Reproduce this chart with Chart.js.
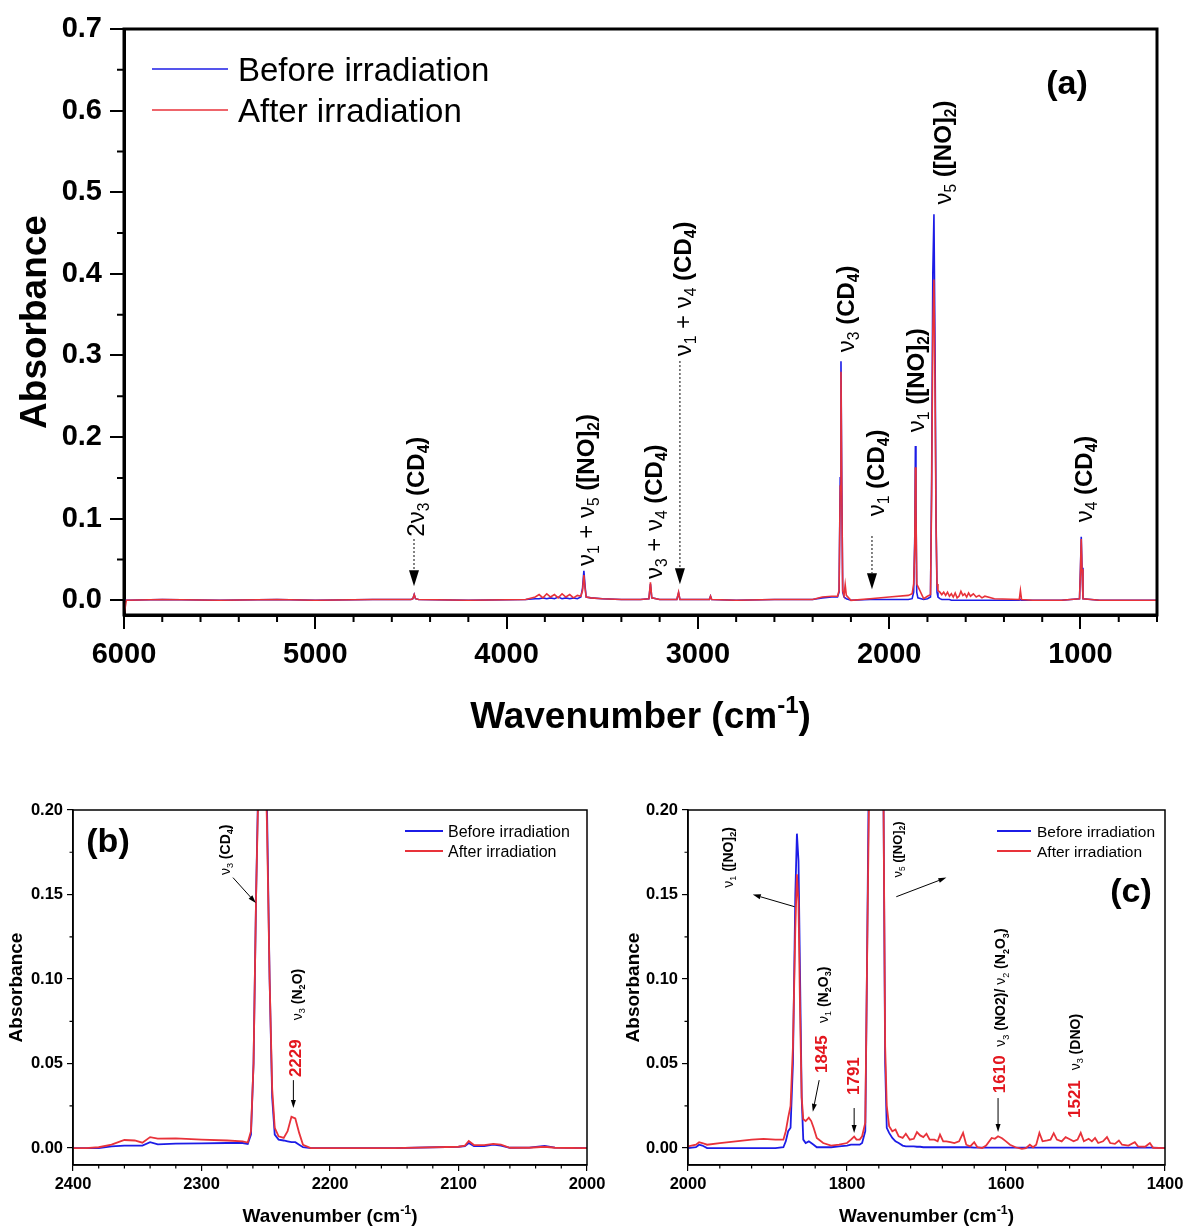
<!DOCTYPE html>
<html>
<head>
  <title>FTIR spectra before and after irradiation</title>
  <script src="https://cdn.jsdelivr.net/npm/chart.js@4.4.0/dist/chart.umd.min.js"></script>
  <style>
    body { margin: 0; background: #fff; }
    .panel { position: absolute; }
  </style>
</head>
<body>
  <div class="panel" style="left:0;top:0;width:1183px;height:745px"><canvas id="chartA"></canvas></div>
  <div class="panel" style="left:0;top:790px;width:620px;height:438px"><canvas id="chartB"></canvas></div>
  <div class="panel" style="left:590px;top:790px;width:593px;height:438px"><canvas id="chartC"></canvas></div>

  <script>
    // ---- data: panel (a), full range ----
    const waveA = [6000, 5988, 5800, 5500, 5200, 5000, 4700, 4500, 4490, 4483, 4476, 4460, 4200, 3900,
      3850, 3830, 3810, 3790, 3770, 3750, 3730, 3710, 3690, 3670, 3650, 3630, 3612, 3603, 3596, 3590, 3584,
      3560, 3500, 3400, 3300, 3256, 3248, 3241, 3200, 3110, 3101, 3094, 3000, 2940, 2934, 2928, 2800, 2600,
      2400, 2350, 2300, 2270, 2262, 2256, 2252, 2248, 2243, 2236, 2230, 2224, 2200, 2100, 2000, 1900, 1880,
      1872, 1866, 1863, 1860, 1856, 1850, 1820, 1800, 1784, 1778, 1772, 1766, 1760, 1755, 1750, 1745, 1735,
      1725, 1715, 1705, 1695, 1685, 1675, 1665, 1655, 1645, 1635, 1625, 1615, 1605, 1595, 1585, 1575, 1560,
      1545, 1530, 1515, 1500, 1450, 1320, 1314, 1308, 1250, 1100, 1005, 1000, 996, 992, 987, 900, 700, 600];
    const beforeA = [0, 0, 0.001, 0, 0.001, 0, 0.001, 0.001, 0.002, 0.007, 0.002, 0.001, 0, 0.001,
      0.002, 0.002, 0.003, 0.002, 0.003, 0.002, 0.004, 0.002, 0.003, 0.002, 0.003, 0.002, 0.004, 0.015, 0.036, 0.018, 0.004,
      0.003, 0.002, 0.001, 0.001, 0.002, 0.02, 0.003, 0.001, 0.001, 0.009, 0.001, 0.001, 0.001, 0.005, 0.001, 0, 0.001,
      0.001, 0.003, 0.004, 0.004, 0.01, 0.15, 0.293, 0.15, 0.01, 0.004, 0.003, 0.002, 0, 0.001, 0.001, 0.001, 0.002,
      0.01, 0.08, 0.189, 0.12, 0.01, 0.003, 0.001, 0.002, 0.004, 0.15, 0.40, 0.473, 0.3, 0.1, 0.01, 0.004, 0.002,
      0.001, 0.001, 0.001, 0.001, 0.001, 0, 0, 0, 0, 0, 0, 0, 0, 0, 0, 0, 0,
      0, 0, 0, 0, 0, 0, 0.001, 0, 0, 0, 0.002, 0.04, 0.078, 0.04, 0.002, 0, 0, 0];
    const afterA = [-0.018, 0, 0.001, 0, 0.001, 0, 0.001, 0.001, 0.002, 0.007, 0.002, 0.001, 0, 0.001,
      0.004, 0.007, 0.003, 0.008, 0.004, 0.007, 0.003, 0.008, 0.004, 0.007, 0.003, 0.006, 0.005, 0.012, 0.031, 0.015, 0.004,
      0.003, 0.002, 0.001, 0.001, 0.002, 0.022, 0.003, 0.001, 0.001, 0.01, 0.001, 0.001, 0.001, 0.005, 0.001, 0, 0.001,
      0.001, 0.004, 0.005, 0.005, 0.012, 0.14, 0.28, 0.14, 0.012, 0.006, 0.019, 0.006, 0, 0.002, 0.004, 0.006, 0.008,
      0.02, 0.07, 0.163, 0.11, 0.02, 0.017, 0.002, 0.005, 0.007, 0.13, 0.33, 0.393, 0.25, 0.09, 0.02, 0.012, 0.01,
      0.007, 0.01, 0.006, 0.01, 0.005, 0.008, 0.004, 0.009, 0.003, 0.005, 0.011, 0.006, 0.008, 0.004, 0.009, 0.005, 0.008,
      0.004, 0.006, 0.003, 0.005, 0.002, 0.001, 0.012, 0.001, 0, 0, 0.002, 0.038, 0.075, 0.038, 0.002, 0, 0, 0];
    const xTicksA = [6000, 5000, 4000, 3000, 2000, 1000];
    const yTicksA = [0, 0.1, 0.2, 0.3, 0.4, 0.5, 0.6, 0.7];

    // ---- data: panel (b), 2400-2000 cm-1 ----
    const waveB = [2400, 2390, 2380, 2370, 2360, 2352, 2346, 2340, 2334, 2320, 2300, 2280, 2268, 2264, 2261.5,
      2259.5, 2257.5, 2255, 2252, 2249, 2247, 2245, 2243, 2240, 2236, 2233, 2230, 2227, 2224, 2221, 2215, 2150,
      2100, 2095, 2092, 2088, 2080, 2073, 2067, 2060, 2045, 2033, 2025, 2000];
    const beforeB = [0, 0, 0, 0.001, 0.0015, 0.0015, 0.0015, 0.0035, 0.0022, 0.0026, 0.0028, 0.003, 0.003, 0.0025, 0.008,
      0.05, 0.15, 0.25, 0.293, 0.2, 0.1, 0.03, 0.008, 0.005, 0.0045, 0.004, 0.0035, 0.0035, 0.002, 0.0005, 0, 0,
      0.0008, 0.0012, 0.003, 0.0012, 0.0012, 0.002, 0.0015, 0.0002, 0.0003, 0.0013, 0.0003, 0];
    const afterB = [0, 0, 0.0005, 0.002, 0.0048, 0.0045, 0.0032, 0.0065, 0.0056, 0.0058, 0.005, 0.0045, 0.004, 0.0033, 0.01,
      0.05, 0.15, 0.24, 0.28, 0.19, 0.1, 0.035, 0.012, 0.007, 0.006, 0.01, 0.0185, 0.0175, 0.009, 0.002, 0, 0,
      0.0008, 0.0015, 0.0042, 0.0018, 0.0018, 0.0025, 0.002, 0.0002, 0.0002, 0.0008, 0.0002, 0];
    const xTicksB = [2400, 2300, 2200, 2100, 2000];
    const yTicksB = [0, 0.05, 0.1, 0.15, 0.2];

    // ---- data: panel (c), 2000-1400 cm-1 ----
    const waveC = [2000, 1990, 1986, 1982, 1976, 1960, 1940, 1920, 1905, 1890, 1880, 1877, 1874, 1871, 1868,
      1865, 1863, 1861, 1859, 1857, 1855, 1852, 1848, 1845, 1842, 1838, 1830, 1820, 1810, 1800, 1795, 1791,
      1788, 1784, 1781, 1777, 1775, 1772, 1766, 1758, 1754, 1752, 1750, 1747, 1743, 1739, 1735, 1730, 1726,
      1721, 1716, 1712, 1708, 1704, 1700, 1696, 1690, 1686, 1683, 1679, 1675, 1670, 1665, 1659, 1654, 1650,
      1645, 1640, 1636, 1630, 1625, 1618, 1614, 1610, 1605, 1600, 1595, 1588, 1580, 1575, 1570, 1566, 1562,
      1558, 1554, 1548, 1544, 1540, 1536, 1530, 1525, 1521, 1515, 1510, 1506, 1502, 1496, 1492, 1488, 1484,
      1478, 1473, 1469, 1463, 1458, 1454, 1446, 1438, 1434, 1425, 1419, 1415, 1400];
    const beforeC = [0, 0.0005, 0.002, 0.0015, 0, 0, 0, 0, 0, 0, 0.0005, 0.004, 0.01, 0.012, 0.05,
      0.15, 0.186, 0.17, 0.1, 0.03, 0.005, 0.003, 0.004, 0.003, 0.002, 0.0005, 0.0005, 0.0005, 0.001, 0.0015, 0.002, 0.002,
      0.002, 0.002, 0.003, 0.01, 0.1, 0.25, 0.473, 0.35, 0.2, 0.05, 0.012, 0.009, 0.006, 0.004, 0.003, 0.0015, 0.001,
      0.001, 0.001, 0.0008, 0.0008, 0.0005, 0.0005, 0.0005, 0.0005, 0.0005, 0.0005, 0.0005, 0.0005, 0.0005, 0.0005, 0.0005, 0.0005, 0.0005,
      0.0005, 0.0003, 0.0003, 0.0003, 0.0003, 0.0003, 0.0003, 0.0003, 0.0003, 0.0003, 0.0003, 0.0003, 0.0003, 0.0003, 0.0003, 0.0003, 0.0003,
      0.0003, 0.0003, 0.0003, 0.0003, 0.0003, 0.0003, 0.0003, 0.0003, 0.0003, 0.0003, 0.0003, 0.0003, 0.0003, 0.0003, 0.0003, 0.0003, 0.0003,
      0.0003, 0.0003, 0.0003, 0.0003, 0.0003, 0.0003, 0.0003, 0.0003, 0.0003, 0.0003, 0.0003, 0.0003, 0];
    const afterC = [0.001, 0.002, 0.0035, 0.003, 0.002, 0.003, 0.004, 0.005, 0.0055, 0.005, 0.005, 0.01, 0.018, 0.025, 0.06,
      0.13, 0.162, 0.145, 0.08, 0.03, 0.017, 0.016, 0.018, 0.016, 0.012, 0.006, 0.003, 0.0015, 0.002, 0.003, 0.005, 0.0068,
      0.005, 0.005, 0.007, 0.015, 0.1, 0.22, 0.393, 0.3, 0.2, 0.06, 0.025, 0.013, 0.01, 0.011, 0.007, 0.006, 0.0085,
      0.005, 0.0055, 0.0095, 0.0075, 0.0065, 0.0085, 0.005, 0.005, 0.004, 0.008, 0.004, 0.004, 0.0035, 0.003, 0.004, 0.009, 0.002,
      0.001, 0.0035, 0.0005, 0, 0.0015, 0.006, 0.0055, 0.007, 0.0058, 0.004, 0.002, 0.0005, -0.0005, 0, 0.002, 0.0005, 0.002,
      0.009, 0.004, 0.0045, 0.005, 0.0088, 0.005, 0.004, 0.0065, 0.0055, 0.004, 0.005, 0.009, 0.004, 0.0055, 0.004, 0.006, 0.003,
      0.004, 0.0065, 0.003, 0.0025, 0.0045, 0.002, 0.0015, 0.0035, 0.001, 0.0008, 0.003, 0.0002, 0];
    const xTicksC = [2000, 1800, 1600, 1400];
    const yTicksC = [0, 0.05, 0.1, 0.15, 0.2];

    const BLUE = '#1c1ce6';
    const RED = '#e8323a';
    const RED_TEXT = '#e3161e';
    const FONT = "'Liberation Sans', Arial, sans-serif";

    // label pieces: [text, flags]  b = bold, s = subscript, u = superscript
    const CD4 = [[' (CD', 'b'], ['4', 'sb'], [')', 'b']];
    const NO2 = [[' ([NO]', 'b'], ['2', 'sb'], [')', 'b']];
    const nu = n => [['ν', ''], [n, 's']];

    // peak labels, anchored at the lower end of the rotated text (wavenumber, absorbance)
    const labelsA = [
      { w: 4479, a: 0.078, size: 24, segs: [['2ν', ''], ['3', 's'], ...CD4] },
      { w: 3590, a: 0.042, size: 24, segs: [...nu('1'), [' + ', ''], ...nu('5'), ...NO2] },
      { w: 3235, a: 0.026, size: 24, segs: [...nu('3'), [' + ', ''], ...nu('4'), ...CD4] },
      { w: 3083, a: 0.299, size: 24, segs: [...nu('1'), [' + ', ''], ...nu('4'), ...CD4] },
      { w: 2231, a: 0.304, size: 24, segs: [...nu('3'), ...CD4] },
      { w: 2074, a: 0.103, size: 24, segs: [...nu('1'), ...CD4] },
      { w: 1865, a: 0.206, size: 24, segs: [...nu('1'), ...NO2] },
      { w: 1724, a: 0.485, size: 24, segs: [...nu('5'), ...NO2] },
      { w: 987, a: 0.0955, size: 24, segs: [...nu('4'), ...CD4] }
    ];
    const arrowsA = [
      { w1: 4484, a1: 0.0747, w2: 4484, a2: 0.0171 },
      { w1: 3094, a1: 0.2928, w2: 3094, a2: 0.0196 },
      { w1: 2090, a1: 0.0784, w2: 2090, a2: 0.0135 }
    ];
    const labelsB = [
      { w: 2282, a: 0.1615, size: 14, segs: [...nu('3'), ...CD4] },
      { w: 2225.7, a: 0.0757, size: 14, segs: [...nu('3'), [' (N', 'b'], ['2', 'sb'], ['O)', 'b']] },
      { w: 2227, a: 0.042, size: 17, color: RED_TEXT, segs: [['2229', 'b']] }
    ];
    const arrowsB = [
      { w1: 2275.5, a1: 0.160, w2: 2257.7, a2: 0.145 },
      { w1: 2228.5, a1: 0.0402, w2: 2228.5, a2: 0.0237 }
    ];
    const N2O3 = [[' (N', 'b'], ['2', 'sb'], ['O', 'b'], ['3', 'sb'], [')', 'b']];
    const labelsC = [
      { w: 1950, a: 0.154, size: 14, segs: [...nu('1'), ...NO2] },
      { w: 1737, a: 0.160, size: 13, segs: [...nu('5'), ...NO2] },
      { w: 1830, a: 0.074, size: 14, segs: [...nu('1'), ...N2O3] },
      { w: 1833, a: 0.0444, size: 17, color: RED_TEXT, segs: [['1845', 'b']] },
      { w: 1793, a: 0.0314, size: 17, color: RED_TEXT, segs: [['1791', 'b']] },
      { w: 1607, a: 0.060, size: 14, segs: [...nu('3'), [' (NO2)/ ', 'b'], ...nu('2'), ...N2O3] },
      { w: 1609, a: 0.0325, size: 17, color: RED_TEXT, segs: [['1610', 'b']] },
      { w: 1513, a: 0.046, size: 14, segs: [...nu('3'), [' (DNO)', 'b']] },
      { w: 1514, a: 0.0178, size: 17, color: RED_TEXT, segs: [['1521', 'b']] }
    ];
    const arrowsC = [
      { w1: 1866, a1: 0.1428, w2: 1918.5, a2: 0.150 },
      { w1: 1738, a1: 0.1487, w2: 1675, a2: 0.160 },
      { w1: 1835, a1: 0.0402, w2: 1843, a2: 0.0215 },
      { w1: 1791, a1: 0.0237, w2: 1791, a2: 0.0089 },
      { w1: 1610, a1: 0.0296, w2: 1610, a2: 0.0095 }
    ];

    // draw a run of text pieces; rotate = reads bottom to top
    function drawRich(ctx, segs, x, y, size, o) {
      o = o || {};
      const parts = segs.map(([t, f]) => {
        const sub = f.includes('s'), sup = f.includes('u');
        const sz = (sub || sup) ? size * 0.65 : size;
        const font = ((f.includes('b') || o.bold) ? 'bold ' : '') + sz + 'px ' + FONT;
        ctx.font = font;
        return { t, font, w: ctx.measureText(t).width, dy: sub ? size * 0.22 : sup ? -size * 0.42 : 0 };
      });
      const total = parts.reduce((s, p) => s + p.w, 0);
      ctx.save();
      ctx.translate(x, y);
      if (o.rotate) ctx.rotate(-Math.PI / 2);
      ctx.fillStyle = o.color || '#000';
      ctx.textAlign = 'left';
      ctx.textBaseline = 'alphabetic';
      let cx = o.center ? -total / 2 : 0;
      parts.forEach(p => {
        ctx.font = p.font;
        ctx.fillText(p.t, cx, size * 0.36 + p.dy);
        cx += p.w;
      });
      ctx.restore();
    }

    function drawArrow(ctx, x1, y1, x2, y2, s) {
      const ang = Math.atan2(y2 - y1, x2 - x1);
      const bx = x2 - s.head * Math.cos(ang), by = y2 - s.head * Math.sin(ang);
      const hx = s.headW / 2 * Math.sin(ang), hy = s.headW / 2 * Math.cos(ang);
      ctx.strokeStyle = '#000';
      ctx.fillStyle = '#000';
      ctx.lineWidth = s.width;
      ctx.setLineDash(s.dash);
      ctx.beginPath();
      ctx.moveTo(x1, y1);
      ctx.lineTo(bx, by);
      ctx.stroke();
      ctx.setLineDash([]);
      ctx.beginPath();
      ctx.moveTo(x2, y2);
      ctx.lineTo(bx + hx, by - hy);
      ctx.lineTo(bx - hx, by + hy);
      ctx.closePath();
      ctx.fill();
    }

    // frame, minor ticks, titles, legend and annotations
    function decorFor(p) {
      return {
        id: 'decor',
        afterDatasetsDraw(chart) {
          const { ctx, chartArea: ca, scales: { x, y } } = chart;
          const near = (arr, v) => arr.some(m => Math.abs(m - v) < 1e-6);
          ctx.save();
          ctx.strokeStyle = '#000';
          ctx.lineWidth = p.tickW;
          ctx.beginPath();
          for (let i = 0; p.xMin + i * p.xMinor <= p.xMax + 1e-6; i++) {
            const v = p.xMin + i * p.xMinor;
            if (near(p.xTicks, v)) continue;
            const px = x.getPixelForValue(v);
            ctx.moveTo(px, ca.bottom);
            ctx.lineTo(px, ca.bottom + p.minLen);
          }
          for (let i = 0; i * p.yMinor <= p.yMax + 1e-6; i++) {
            const v = i * p.yMinor;
            if (near(p.yTicks, v)) continue;
            const py = y.getPixelForValue(v);
            ctx.moveTo(ca.left - p.minLen, py);
            ctx.lineTo(ca.left, py);
          }
          ctx.stroke();

          ctx.lineWidth = p.frame;
          ctx.strokeRect(ca.left, ca.top, ca.right - ca.left, ca.bottom - ca.top);

          // axis titles
          drawRich(ctx, [['Wavenumber (cm', ''], ['-1', 'u'], [')', '']], (ca.left + ca.right) / 2, p.xTitleY,
            p.titleSize, { bold: true, center: true });
          drawRich(ctx, [['Absorbance', '']], p.yTitleX, (ca.top + ca.bottom) / 2, p.titleSize,
            { bold: true, center: true, rotate: true });

          // legend
          const lg = p.legend;
          [[lg.y1, BLUE, 'Before irradiation'], [lg.y2, RED, 'After irradiation']].forEach(([ly, col, txt]) => {
            ctx.strokeStyle = col;
            ctx.lineWidth = lg.lw;
            ctx.beginPath();
            ctx.moveTo(lg.x, ly);
            ctx.lineTo(lg.x + lg.len, ly);
            ctx.stroke();
            drawRich(ctx, [[txt, '']], lg.x + lg.len + lg.gap, ly, lg.size);
          });

          // panel letter
          drawRich(ctx, [[p.letter.t, 'b']], p.letter.x, p.letter.y, p.letter.size, { center: true });

          // peak labels and arrows
          p.labels.forEach(l => drawRich(ctx, l.segs, x.getPixelForValue(l.w), y.getPixelForValue(l.a), l.size,
            { rotate: true, color: l.color }));
          p.arrows.forEach(a => drawArrow(ctx, x.getPixelForValue(a.w1), y.getPixelForValue(a.a1),
            x.getPixelForValue(a.w2), y.getPixelForValue(a.a2), p.arrowStyle));
          ctx.restore();
        }
      };
    }

    function makeChart(id, p) {
      const series = vals => p.wave.map((w, i) => ({ x: w, y: vals[i] }));
      return new Chart(document.getElementById(id), {
        type: 'line',
        data: {
          datasets: [
            { label: 'After irradiation', data: series(p.after), borderColor: RED, borderWidth: p.lw,
              pointRadius: 0, tension: 0, order: 0 },
            { label: 'Before irradiation', data: series(p.before), borderColor: BLUE, borderWidth: p.lw,
              pointRadius: 0, tension: 0, order: 1 }
          ]
        },
        options: {
          responsive: true,
          maintainAspectRatio: false,
          animation: false,
          layout: { padding: p.pad },
          plugins: { legend: { display: false }, tooltip: { enabled: false } },
          scales: {
            x: {
              type: 'linear', reverse: true, min: p.xMin, max: p.xMax,
              afterBuildTicks: s => { s.ticks = p.xTicks.map(v => ({ value: v })); },
              afterFit: s => { s.height = p.xH; s.paddingLeft = 0; s.paddingRight = 0; },
              ticks: { color: '#000', font: { family: FONT, size: p.tickFont, weight: 'bold' },
                padding: p.xPad, maxRotation: 0, autoSkip: false, callback: v => String(v) },
              grid: { drawOnChartArea: false, tickLength: p.majLen, color: '#000', lineWidth: p.tickW },
              border: { color: '#000', width: p.frame }
            },
            y: {
              type: 'linear', min: p.yMin, max: p.yMax,
              afterBuildTicks: s => { s.ticks = p.yTicks.map(v => ({ value: v })); },
              afterFit: s => { s.width = p.yW; s.paddingTop = 0; s.paddingBottom = 0; },
              ticks: { color: '#000', font: { family: FONT, size: p.tickFont, weight: 'bold' },
                padding: p.yPad, autoSkip: false, callback: v => Number(v).toFixed(p.yDec) },
              grid: { drawOnChartArea: false, tickLength: p.majLen, color: '#000', lineWidth: p.tickW },
              border: { color: '#000', width: p.frame }
            }
          }
        },
        plugins: [decorFor(p)]
      });
    }

    const bottomStyle = {
      tickFont: 16.5, xPad: 4, yPad: 4, majLen: 6, minLen: 3.5, tickW: 1.2, frame: 1.5, lw: 1.8,
      xTitleY: 425, titleSize: 19, xH: 63, yMin: -0.01, yMax: 0.2, yMinor: 0.025, yDec: 2,
      arrowStyle: { width: 1, head: 8, headW: 5, dash: [] }
    };

    makeChart('chartA', {
      wave: waveA, before: beforeA, after: afterA,
      xMin: 600, xMax: 6000, yMin: -0.018, yMax: 0.7,
      xTicks: xTicksA, yTicks: yTicksA, xMinor: 200, yMinor: 0.05, yDec: 1,
      pad: { left: 0, top: 29, right: 26, bottom: 0 }, yW: 124, xH: 130,
      tickFont: 29, xPad: 9, yPad: 8, majLen: 14, minLen: 7, tickW: 2, frame: 3, lw: 1.6,
      xTitleY: 715, yTitleX: 33, titleSize: 37,
      legend: { x: 152, y1: 69, y2: 110, len: 76, gap: 10, size: 33, lw: 1.6 },
      letter: { t: '(a)', x: 1067, y: 82, size: 34 },
      labels: labelsA, arrows: arrowsA,
      arrowStyle: { width: 1.3, head: 16, headW: 10, dash: [1.5, 2.5] }
    });

    makeChart('chartB', Object.assign({}, bottomStyle, {
      wave: waveB, before: beforeB, after: afterB,
      xMin: 2000, xMax: 2400, xTicks: xTicksB, yTicks: yTicksB, xMinor: 20,
      pad: { left: 0, top: 20, right: 33, bottom: 0 }, yW: 73, yTitleX: 15,
      legend: { x: 405, y1: 41, y2: 61, len: 38, gap: 5, size: 16, lw: 1.8 },
      letter: { t: '(b)', x: 108, y: 50, size: 34 },
      labels: labelsB, arrows: arrowsB
    }));

    makeChart('chartC', Object.assign({}, bottomStyle, {
      wave: waveC, before: beforeC, after: afterC,
      xMin: 1400, xMax: 2000, xTicks: xTicksC, yTicks: yTicksC, xMinor: 40,
      pad: { left: 0, top: 20, right: 18, bottom: 0 }, yW: 98, yTitleX: 42,
      legend: { x: 407, y1: 41, y2: 61, len: 34, gap: 6, size: 15.5, lw: 1.8 },
      letter: { t: '(c)', x: 541, y: 100, size: 34 },
      labels: labelsC, arrows: arrowsC
    }));
  </script>
</body>
</html>
